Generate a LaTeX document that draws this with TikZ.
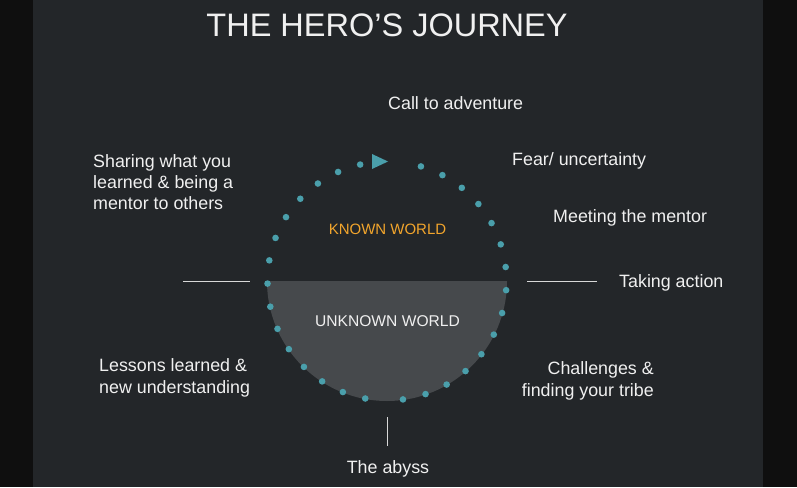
\documentclass[tikz,border=0pt]{standalone}
\usepackage{fontspec}
\setmainfont{Liberation Sans}
\definecolor{outerbg}{HTML}{0F0F0F}
\definecolor{panelbg}{HTML}{232629}
\definecolor{halfgray}{HTML}{46494C}
\definecolor{tealdot}{HTML}{4A9FAB}
\definecolor{orangetxt}{HTML}{F2A52C}
\definecolor{lighttxt}{HTML}{F0F0F0}
\definecolor{linecol}{HTML}{D8D8D8}
\begin{document}
\begin{tikzpicture}[x=1pt,y=-1pt,
  lbl/.style={inner sep=0pt,text=lighttxt,font=\fontsize{17.85}{21}\selectfont},
  dot/.style={fill=tealdot},
  tick/.style={draw=linecol,line width=0.8pt}]
\useasboundingbox (0,0) rectangle (797,487);
\fill[outerbg] (0,0) rectangle (797,487);
\fill[panelbg] (33,0) rectangle (763,487);
\coordinate (c) at (387,281);
% half disk
\fill[halfgray] (267,281) arc[start angle=180,end angle=360,x radius=120,y radius=-120] -- cycle;
% dots
\foreach \k in {0,...,14} {
  \pgfmathsetmacro{\ang}{73.5-\k*11.13}
  \fill[dot] (c) ++({cos(\ang)*119.5},{-sin(\ang)*119.5}) circle (3.3);
  \pgfmathsetmacro{\angb}{-100.5-\k*11.18}
  \fill[dot] (c) ++({cos(\angb)*119.5},{-sin(\angb)*119.5}) circle (3.3);
}
% arrow
\fill[tealdot] (372,154) -- (388,161.5) -- (372,169) -- cycle;
% title
\node[inner sep=0pt,anchor=base,text=lighttxt,font=\fontsize{32.5}{36}\selectfont] (title) at (387,37) {THE HERO’S JOURNEY};
% world labels
\node[inner sep=0pt,anchor=base,text=orangetxt,font=\fontsize{15}{18}\selectfont] (known) at (387.5,234) {KNOWN WORLD};
\node[inner sep=0pt,anchor=base,text=lighttxt,font=\fontsize{15.6}{19}\selectfont] (unknown) at (387.5,326) {UNKNOWN WORLD};
% stage labels
\node[lbl,anchor=base west] (call) at (388,109) {Call to adventure};
\node[lbl,anchor=base west] (fear) at (512,165) {Fear/ uncertainty};
\node[lbl,anchor=base west] (mentor) at (553,222) {Meeting the mentor};
\node[lbl,anchor=base west] (action) at (619,287) {Taking action};
\node[lbl,anchor=base east] (chal1) at (654,374) {Challenges \&};
\node[lbl,anchor=base east] (chal2) at (654,396) {finding your tribe};
\node[lbl,anchor=base] (abyss) at (388,473) {The abyss};
\node[lbl,anchor=base west] (less1) at (99,371) {Lessons learned \&};
\node[lbl,anchor=base west] (less2) at (99,393) {new understanding};
\node[lbl,anchor=base west] (share1) at (93,167) {Sharing what you};
\node[lbl,anchor=base west] (share2) at (93,188) {learned \& being a};
\node[lbl,anchor=base west] (share3) at (93,209) {mentor to others};
% ticks
\coordinate (lt1) at (183,281); \coordinate (lt2) at (250,281);
\coordinate (rt1) at (527,281); \coordinate (rt2) at (597,281);
\coordinate (bt1) at (387,417); \coordinate (bt2) at (387,446);
\draw[tick] (lt1) -- (lt2);
\draw[tick] (rt1) -- (rt2);
\draw[tick] (bt1) -- (bt2);
\end{tikzpicture}
\end{document}
